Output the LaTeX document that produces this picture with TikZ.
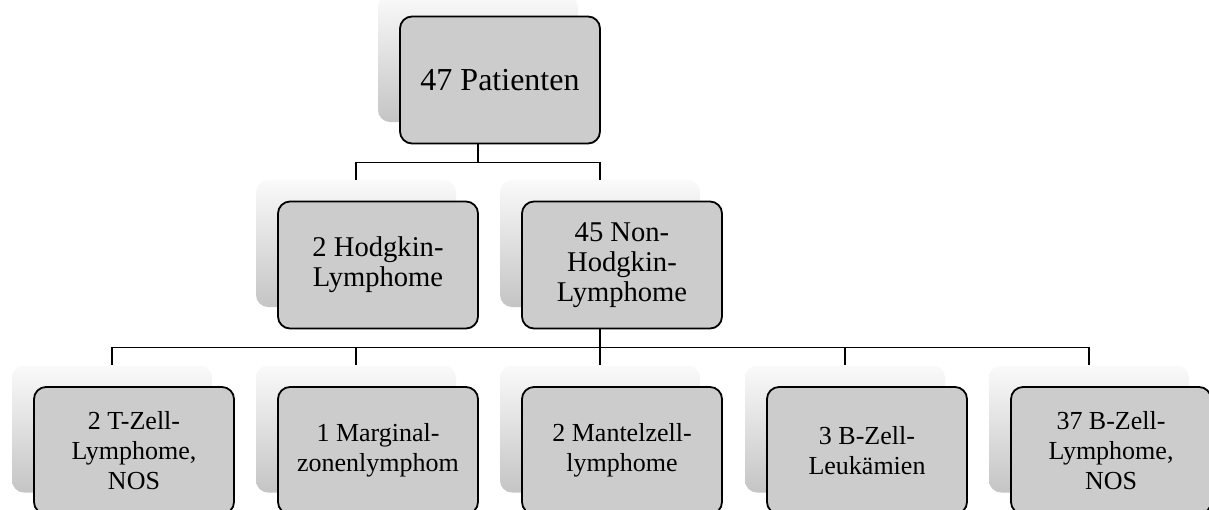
\documentclass[tikz,border=0pt]{standalone}
\usepackage{fontspec}
\setmainfont{Liberation Serif}
\usetikzlibrary{positioning}

\tikzset{
  bgbox/.style={rounded corners=6pt, minimum width=100pt, minimum height=63.5pt,
    top color=gray!4, middle color=gray!13, bottom color=gray!46, inner sep=0pt},
  frontbox/.style={draw=black, line width=0.9pt, rounded corners=6pt, fill=gray!40,
    minimum width=100pt, minimum height=63.5pt, inner sep=0pt, align=center,
    font=\fontsize{13}{15}\selectfont},
  link/.style={line width=0.9pt}
}

\begin{document}
\begin{tikzpicture}[x=0.5pt,y=-0.5pt]
\useasboundingbox (0,0) rectangle (1209,509);
%%% Draws top box
\node[bgbox] (pat) at (478,58.5) {};
\node[frontbox, font=\fontsize{16}{18}\selectfont] (patF) at (500,80) {47 Patienten};
%%% Draws second row
\node[bgbox] (hod) at (356,243.5) {};
\node[bgbox] (nhl) at (600,243.5) {};
% connectors to second row
\draw[link] (pat |- patF.south) -- ++(0,18) -| (hod.north);
\draw[link] (pat |- patF.south) -- ++(0,18) -| (nhl.north);
\node[frontbox, font=\fontsize{14.3}{14.9}\selectfont] (hodF) at (378,265) {2 Hodgkin-\\Lymphome};
%%% Draws third row
\foreach \nm/\cx in {tzl/112, mzl/356, mcl/600, bzl/845, bnl/1089}{
  \node[bgbox] (\nm) at (\cx,429) {};
  \draw[link] (nhl |- nhl.south) ++(0,21) -- ++(0,19) -| (\nm.north);
}
\node[frontbox, font=\fontsize{14.3}{14.9}\selectfont] (nhlF) at (622,265) {45 Non-\\Hodgkin-\\Lymphome};
% labels third row
\node[frontbox] (tzlF) at (134,450.5) {2 T-Zell-\\Lymphome,\\NOS};
\node[frontbox] (mzlF) at (378,450.5) {1 Marginal-\\zonenlymphom};
\node[frontbox] (mclF) at (622,450.5) {2 Mantelzell-\\lymphome};
\node[frontbox] (bzlF) at (867,450.5) {3 B-Zell-\\Leukämien};
\node[frontbox] (bnlF) at (1111,450.5) {37 B-Zell-\\Lymphome,\\NOS};
\end{tikzpicture}
\end{document}
